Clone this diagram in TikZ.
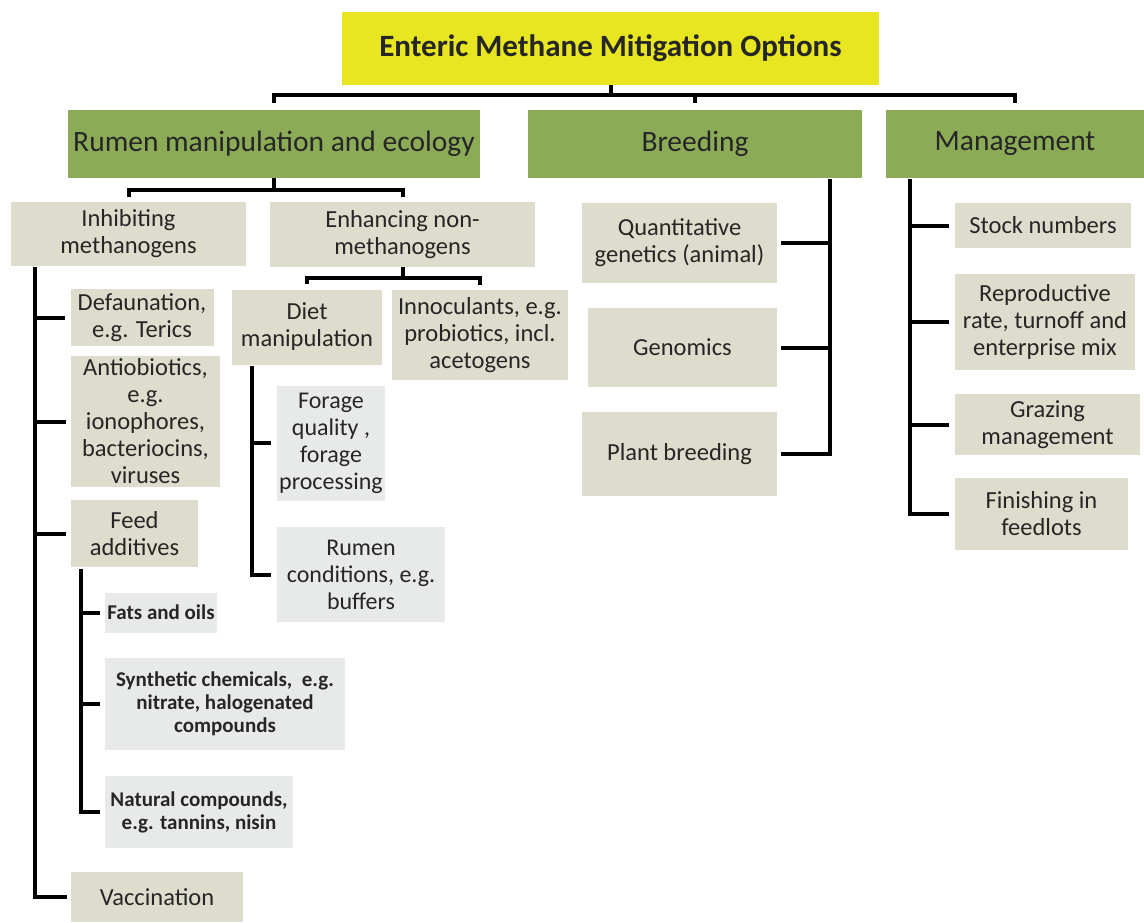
\documentclass[tikz,border=0pt]{standalone}
\usepackage{fontspec}
\setmainfont{Carlito}
\definecolor{ttl}{HTML}{E8E620}
\definecolor{grn}{HTML}{8CAB57}
\definecolor{bge}{HTML}{DEDCCC}
\definecolor{lgr}{HTML}{E8E9E9}
\definecolor{txt}{HTML}{262626}
\tikzset{
  bx/.style={rectangle, inner sep=0pt, align=center, text=txt},
  titlebox/.style={bx, fill=ttl, font=\fontsize{31}{36}\selectfont\bfseries},
  greenbox/.style={bx, fill=grn, font=\fontsize{29.5}{34}\selectfont},
  beigebox/.style={bx, fill=bge, font=\fontsize{24.5}{27}\selectfont},
  graybox/.style={bx, fill=lgr, font=\fontsize{24}{27}\selectfont},
  smallbox/.style={bx, fill=lgr, font=\fontsize{21}{23}\selectfont\bfseries},
  conn/.style={draw=black, line width=4pt},
  sz/.style 2 args={minimum width=#1pt, minimum height=#2pt}
}
\begin{document}
\begin{tikzpicture}[x=1pt,y=-1pt]
\useasboundingbox (0,0) rectangle (1144,922);
% top level
\node[titlebox, sz={537}{73}] (title) at (610.5,48.5) {Enteric Methane Mitigation Options};
\node[greenbox, sz={412}{68}] (rumen) at (274,144) {Rumen manipulation and ecology};
\node[greenbox, sz={334}{68}] (breed) at (695,144) {Breeding};
\node[greenbox, sz={258}{68}] (mgmt) at (1015,144) {Management};
% rumen branch
\node[beigebox, sz={235}{64}] (inhib) at (128.5,234) {Inhibiting\\methanogens};
\node[beigebox, sz={265}{65}] (enh) at (402.5,234.5) {Enhancing non-\\methanogens};
\node[beigebox, sz={150}{75}] (diet) at (307,327) {Diet\\manipulation};
\node[beigebox, sz={176}{90}] (innoc) at (480,335) {Innoculants, e.g.\\probiotics, incl.\\acetogens};
\node[beigebox, sz={143}{57}] (defa) at (142,317.5) {Defaunation,\\e.g. Terics};
\node[beigebox, sz={149}{131}] (anti) at (145.5,421.5) {Antiobiotics,\\e.g.\\ionophores,\\bacteriocins,\\viruses};
\node[beigebox, sz={127}{67}] (feed) at (134.5,533.5) {Feed\\additives};
\node[smallbox, sz={112}{40}] (fats) at (161,612.5) {Fats and oils};
\node[smallbox, sz={240}{92}] (synth) at (225,704) {Synthetic chemicals,\ \ e.g.\\nitrate, halogenated\\compounds};
\node[smallbox, sz={188}{72}] (natur) at (199,812) {Natural compounds,\\e.g. tannins, nisin};
\node[beigebox, sz={172}{50}] (vacc) at (157,897) {Vaccination};
\node[graybox, sz={108}{115}] (forage) at (331,443) {Forage\\quality ,\\forage\\processing};
\node[graybox, sz={168}{95}] (rcond) at (361,574.5) {Rumen\\conditions, e.g.\\buffers};
% breeding branch
\node[beigebox, sz={195}{80}] (quant) at (679.5,243) {Quantitative\\genetics (animal)};
\node[beigebox, sz={189}{79}] (genom) at (682.5,347.5) {Genomics};
\node[beigebox, sz={195}{84}] (plant) at (679.5,454) {Plant breeding};
% management branch
\node[beigebox, sz={176}{45}] (stock) at (1043,225.5) {Stock numbers};
\node[beigebox, sz={180}{96}] (repro) at (1045,322) {Reproductive\\rate, turnoff and\\enterprise mix};
\node[beigebox, sz={185}{61}] (graz) at (1047.5,424.5) {Grazing\\management};
\node[beigebox, sz={173}{72}] (finish) at (1041.5,514) {Finishing in\\feedlots};
% connectors: top bus
\coordinate (topbus) at (0,95);
\draw[conn] ([yshift=7pt]rumen.north) |- (topbus -| mgmt.north) -- ([yshift=7pt]mgmt.north);
\draw[conn] (title.south) -- (title.south |- topbus);
\draw[conn] (breed.north |- topbus) -- ([yshift=7pt]breed.north);
% rumen bus
\coordinate (rbus) at (0,190);
\draw[conn] ([yshift=5pt]inhib.north) |- (rbus -| enh.north) -- ([yshift=5pt]enh.north);
\draw[conn] (rumen.south) -- (rumen.south |- rbus);
% enhancing bus
\coordinate (ebus) at (0,278);
\draw[conn] ([yshift=5pt]diet.north) |- (ebus -| innoc.north) -- ([yshift=5pt]innoc.north);
\draw[conn] (enh.south) -- (enh.south |- ebus);
% inhibiting spine
\coordinate (isp) at (35,267);
\draw[conn] (isp) |- ([xshift=-4pt]vacc.west);
\foreach \n in {defa,anti,feed} \draw[conn] (isp |- \n.west) -- ([xshift=-5pt]\n.west);
% feed additives spine
\coordinate (fsp) at (81,569);
\draw[conn] (fsp) |- ([xshift=-5pt]natur.west);
\foreach \n in {fats,synth} \draw[conn] (fsp |- \n.west) -- ([xshift=-5pt]\n.west);
% diet spine
\coordinate (dsp) at (252,366);
\draw[conn] (dsp) |- ([xshift=-6pt]rcond.west);
\draw[conn] (dsp |- forage.west) -- ([xshift=-6pt]forage.west);
% breeding spine
\coordinate (bsp) at (830,179);
\draw[conn] (bsp) |- ([xshift=4pt]plant.east);
\foreach \n in {quant,genom} \draw[conn] (bsp |- \n.east) -- ([xshift=4pt]\n.east);
% management spine
\coordinate (msp) at (910,179);
\draw[conn] (msp) |- ([xshift=-6pt]finish.west);
\foreach \n in {stock,repro,graz} \draw[conn] (msp |- \n.west) -- ([xshift=-6pt]\n.west);
\end{tikzpicture}
\end{document}
